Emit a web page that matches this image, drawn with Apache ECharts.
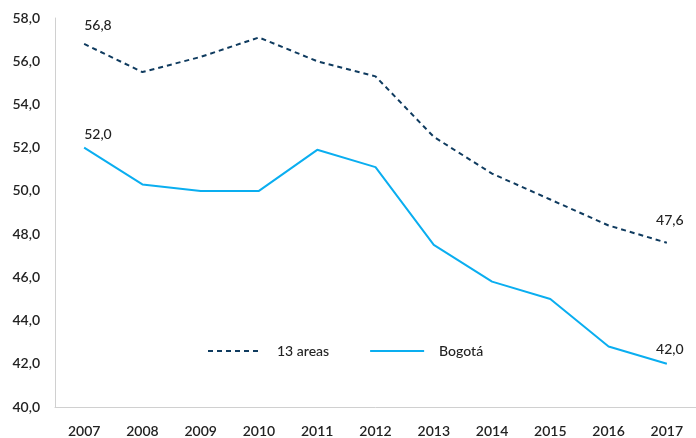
<!DOCTYPE html>
<html><head><meta charset="utf-8">
<script src="https://cdn.jsdelivr.net/npm/echarts@6/dist/echarts.min.js"></script>
<style>html,body{margin:0;padding:0;background:#fff}#c{width:696px;height:438px}</style>
</head><body><div id="c"></div>
<script>
var years = ['2007','2008','2009','2010','2011','2012','2013','2014','2015','2016','2017'];
var areas13 = [56.8, 55.5, 56.2, 57.1, 56.0, 55.3, 52.5, 50.8, 49.6, 48.4, 47.6];
var bogota = [52.0, 50.3, 50.0, 50.0, 51.9, 51.1, 47.5, 45.8, 45.0, 42.8, 42.0];
var yTicks = [40, 42, 44, 46, 48, 50, 52, 54, 56, 58];

function fmt(v){ return Number(v).toFixed(1).replace('.', ','); }
var font = 'Lato';
var chart = echarts.init(document.getElementById('c'));
function withLabels(arr, firstDist, lastDist){
  return arr.map(function(v, i){
    if (i === 0) return { value: v, label: { show: true, position: 'top', align: 'left', offset: [0, 0], distance: firstDist } };
    if (i === arr.length - 1) return { value: v, label: { show: true, position: 'top', offset: [3, 0], distance: lastDist } };
    return v;
  });
}
var baseLabel = { show: false, color: '#222', fontFamily: font, fontSize: 14, fontWeight: 500, formatter: function(p){ return fmt(p.value); } };
chart.setOption({
  animation: false,
  grid: { left: 55, right: 0, top: 18, bottom: 29 },
  legend: {
    left: 202, top: 339, itemWidth: 54, itemHeight: 14, itemGap: 40,
    itemStyle: { opacity: 0 },
    textStyle: { color: '#222', fontFamily: font, fontSize: 14, fontWeight: 500, padding: [0, 0, 0, 10] },
    data: ['13 areas', 'Bogotá']
  },
  xAxis: {
    type: 'category', data: years, boundaryGap: true,
    axisLine: { show: true, lineStyle: { color: '#d0d0d0', width: 1 } },
    axisTick: { show: false },
    axisLabel: { color: '#222', fontFamily: font, fontSize: 14, fontWeight: 600, margin: 17 }
  },
  yAxis: {
    type: 'value', min: yTicks[0], max: yTicks[yTicks.length - 1], interval: 2,
    splitLine: { show: false },
    axisLine: { show: true, lineStyle: { color: '#d0d0d0', width: 1 } },
    axisTick: { show: false },
    axisLabel: { color: '#222', fontFamily: font, fontSize: 14, fontWeight: 600, margin: 15, formatter: fmt }
  },
  series: [
    { name: '13 areas', type: 'line', data: withLabels(areas13, 11, 15), symbol: 'circle', symbolSize: 0.01, showSymbol: true,
      lineStyle: { color: '#0f3b5f', width: 2, type: [5, 4] }, itemStyle: { color: '#0f3b5f' },
      label: baseLabel },
    { name: 'Bogotá', type: 'line', data: withLabels(bogota, 6, 7), symbol: 'circle', symbolSize: 0.01, showSymbol: true,
      lineStyle: { color: '#0aaef0', width: 2 }, itemStyle: { color: '#0aaef0' },
      label: baseLabel }
  ]
});
</script></body></html>
